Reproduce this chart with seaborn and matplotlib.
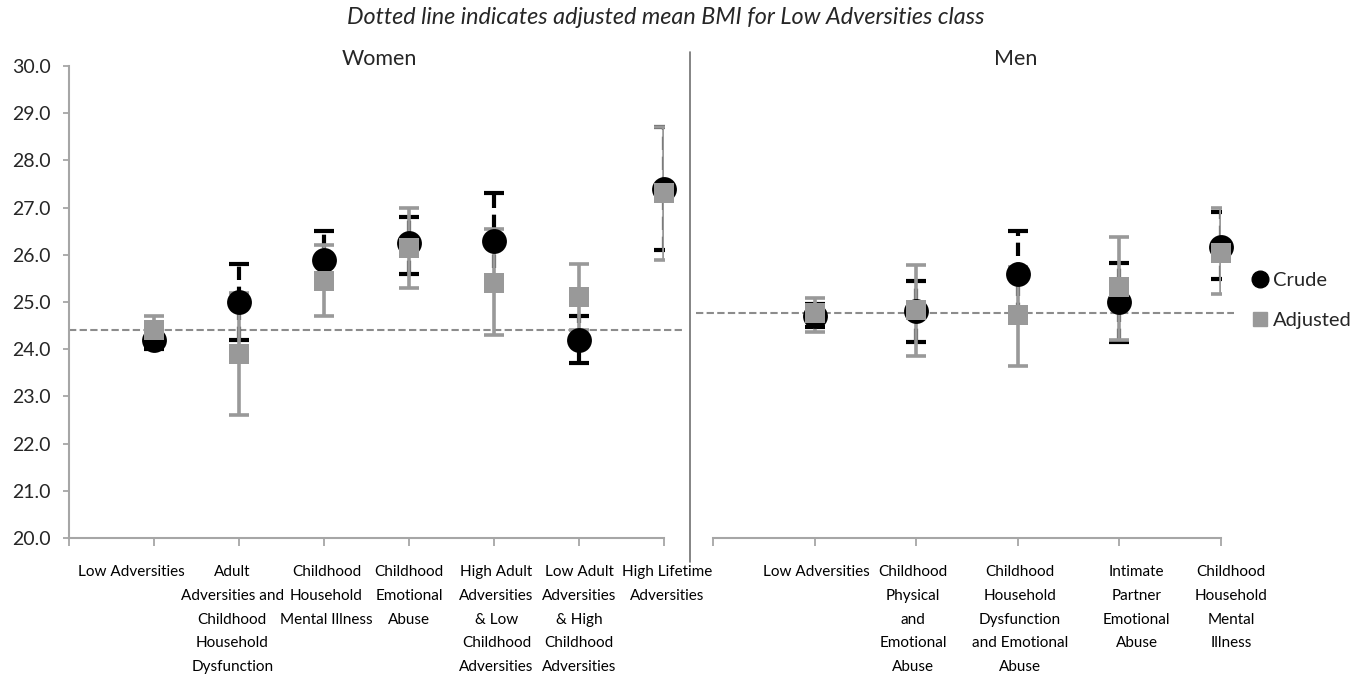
import numpy as np
import pandas as pd
import matplotlib
matplotlib.use("Agg")
import matplotlib.pyplot as plt
import matplotlib.transforms as mtransforms
from matplotlib.lines import Line2D
import seaborn as sns

# ---- data -------------------------------------------------------------
women_classes = [
    "Low Adversities",
    "Adult\nAdversities and\nChildhood\nHousehold\nDysfunction",
    "Childhood\nHousehold\nMental Illness",
    "Childhood\nEmotional\nAbuse",
    "High Adult\nAdversities\n& Low\nChildhood\nAdversities",
    "Low Adult\nAdversities\n& High\nChildhood\nAdversities",
    "High Lifetime\nAdversities",
]
women_crude = [24.2, 25.0, 25.9, 26.25, 26.3, 24.2, 27.4]
women_crude_lo = [24.0, 24.2, 25.3, 25.6, 25.3, 23.7, 26.1]
women_crude_hi = [24.5, 25.8, 26.5, 26.8, 27.3, 24.7, 28.7]
women_adj = [24.4, 23.9, 25.45, 26.15, 25.4, 25.1, 27.3]
women_adj_lo = [24.1, 22.6, 24.7, 25.3, 24.3, 24.4, 25.9]
women_adj_hi = [24.7, 25.2, 26.2, 27.0, 26.55, 25.8, 28.7]

men_classes = [
    "Low Adversities",
    "Childhood\nPhysical\nand\nEmotional\nAbuse",
    "Childhood\nHousehold\nDysfunction\nand Emotional\nAbuse",
    "Intimate\nPartner\nEmotional\nAbuse",
    "Childhood\nHousehold\nMental\nIllness",
]
men_crude = [24.7, 24.8, 25.6, 25.0, 26.17]
men_crude_lo = [24.47, 24.15, 24.7, 24.15, 25.48]
men_crude_hi = [24.95, 25.44, 26.5, 25.83, 26.9]
men_adj = [24.76, 24.83, 24.72, 25.32, 26.03]
men_adj_lo = [24.37, 23.85, 23.65, 24.2, 25.17]
men_adj_hi = [25.08, 25.78, 25.75, 26.38, 27.0]

y_ticks = [20.0, 21.0, 22.0, 23.0, 24.0, 25.0, 26.0, 27.0, 28.0, 29.0, 30.0]

# ---- style ------------------------------------------------------------
sns.set_theme(style="white")
plt.rcParams["font.family"] = ["Lato", "DejaVu Sans"]

AXIS_GREY = "#a6a6a6"
ADJ_GREY = "#999999"
REF_GREY = "#8c8c8c"

W, H = 1369, 679
fig = plt.figure(figsize=(W / 100, H / 100), dpi=100, facecolor="white")

ax_w = fig.add_axes([69 / W, 1 - 538 / H, 595 / W, 472 / H])
ax_m = fig.add_axes([713 / W, 1 - 538 / H, 508 / W, 472 / H])


def draw_panel(ax, labels, label_shift, crude, c_lo, c_hi, adj, a_lo, a_hi, ref_span):
    n = len(labels)
    pos = np.arange(1, n + 1)
    crude = np.asarray(crude)
    adj = np.asarray(adj)
    df = pd.DataFrame({
        "pos": np.r_[pos, pos],
        "bmi": np.r_[crude, adj],
        "estimate": ["Crude"] * n + ["Adjusted"] * n,
    })

    # reference line at the adjusted mean of the Low Adversities class
    ax.plot(ref_span, [adj[0], adj[0]], color=REF_GREY, lw=1.5,
            ls=(0, (3.5, 1.6)), clip_on=False, zorder=1)

    # crude confidence intervals (black, dashed)
    eb = ax.errorbar(pos, crude, yerr=[crude - np.asarray(c_lo), np.asarray(c_hi) - crude],
                     fmt="none", ecolor="black", elinewidth=3, capsize=7,
                     capthick=3, zorder=2)
    eb[2][0].set_linestyle((0, (3.2, 1.6)))

    # adjusted confidence intervals (grey, solid)
    ax.errorbar(pos, adj, yerr=[adj - np.asarray(a_lo), np.asarray(a_hi) - adj],
                fmt="none", ecolor=ADJ_GREY, elinewidth=2.6, capsize=7,
                capthick=2.6, zorder=3)

    sns.scatterplot(data=df[df["estimate"] == "Crude"], x="pos", y="bmi",
                    color="black", marker="o", s=320, linewidth=0,
                    ax=ax, zorder=4, legend=False, clip_on=False)
    sns.scatterplot(data=df[df["estimate"] == "Adjusted"], x="pos", y="bmi",
                    color=ADJ_GREY, marker="s", s=210, linewidth=0,
                    ax=ax, zorder=5, legend=False, clip_on=False)

    ax.set_xlim(0, n)
    ax.set_ylim(20, 30)
    ax.set_xlabel("")
    ax.set_ylabel("")
    ax.set_xticks(np.arange(0, n + 1))
    ax.set_xticklabels([])
    ax.tick_params(axis="x", length=6, width=1.3, color=AXIS_GREY,
                   direction="out", bottom=True)

    trans = mtransforms.blended_transform_factory(ax.transData, ax.transAxes)
    for p, shift, lab in zip(pos, label_shift, labels):
        ax.text(p + shift, -0.058, lab, transform=trans, ha="center", va="top",
                fontsize=11, linespacing=1.88, color="black")

    for side in ("top", "right"):
        ax.spines[side].set_visible(False)
    ax.spines["bottom"].set_color(AXIS_GREY)
    ax.spines["bottom"].set_linewidth(1.5)


draw_panel(ax_w, women_classes, [-0.27, -0.08, 0.03, 0, 0.03, 0, 0.04],
           women_crude, women_crude_lo, women_crude_hi,
           women_adj, women_adj_lo, women_adj_hi, ref_span=[0, 7.22])
draw_panel(ax_m, men_classes, [0.02, -0.03, 0.02, 0.17, 0.1],
           men_crude, men_crude_lo, men_crude_hi,
           men_adj, men_adj_lo, men_adj_hi, ref_span=[-0.17, 5.13])

# y axis only on the women panel
ax_w.set_yticks(y_ticks)
ax_w.set_yticklabels([f"{v:.1f}" for v in y_ticks], fontsize=14)
ax_w.tick_params(axis="y", length=4, width=1.3, color=AXIS_GREY,
                 direction="out", left=True, pad=9)
ax_w.spines["left"].set_color(AXIS_GREY)
ax_w.spines["left"].set_linewidth(1.5)
ax_m.set_yticks([])
ax_m.spines["left"].set_visible(False)

# panel titles, figure title and divider
fig.text(666 / W, 1 - 18 / H, "Dotted line indicates adjusted mean BMI for Low Adversities class",
         ha="center", va="center", fontsize=16.8, style="italic")
fig.text(379 / W, 1 - 59 / H, "Women", ha="center", va="center", fontsize=15.5)
fig.text(1016 / W, 1 - 59 / H, "Men", ha="center", va="center", fontsize=15.5)
fig.add_artist(Line2D([690 / W, 690 / W], [1 - 52 / H, 1 - 562 / H],
                      transform=fig.transFigure, color="#707070", lw=1.2))

# legend
handles = [
    Line2D([], [], ls="none", marker="o", markersize=12, color="black"),
    Line2D([], [], ls="none", marker="s", markersize=10, color=ADJ_GREY),
]
fig.legend(handles, ["Crude", "Adjusted"], loc="upper left",
           bbox_to_anchor=(1251 / W, 1 - 272 / H), frameon=False,
           fontsize=14.5, handlelength=0.9, handletextpad=0.2,
           labelspacing=1.15, borderpad=0, borderaxespad=0)

fig.savefig("out.png", dpi=100, facecolor="white")
